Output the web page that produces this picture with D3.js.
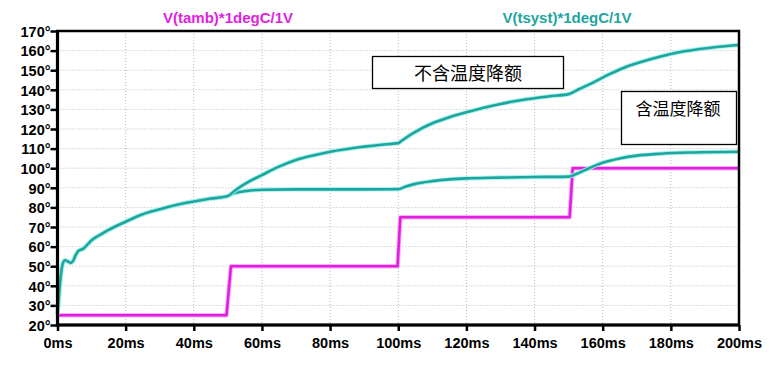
<!DOCTYPE html>
<html><head><meta charset="utf-8">
<script src="https://cdn.jsdelivr.net/npm/d3@7"></script>
<style>
html,body{margin:0;padding:0;background:#fff;}
svg{display:block;font-family:"Liberation Sans",Arial,sans-serif;}
</style></head>
<body>
<svg id="c" width="780" height="367"></svg>
<script>
// ---- data ----
const yTicks = [20,30,40,50,60,70,80,90,100,110,120,130,140,150,160,170];
const xTicks = [0,20,40,60,80,100,120,140,160,180,200];
const seriesNames = ["V(tamb)*1degC/1V","V(tsyst)*1degC/1V"];
const annotations = ["不含温度降额","含温度降额"];

const tambTime = [0,49.6,50.9,99.8,100.6,150.3,151.2,200];
const tambVal  = [25,25,50,50,75,75,100,100];

const upperTime = [0,0.4,0.9,1.5,2.2,3,3.8,4.5,5.3,6.1,7,7.6,8.5,10,12.5,15,20,25,30,35,40,45,50,
  52,55,60,65,70,75,80,85,90,95,100,101,105,110,115,120,125,130,135,140,145,150,151,153,157,162,167,172,177,182,188,194,200];
const upperVal = [25.5,34,44,51,53,52.5,51.7,52.5,55.5,57.8,58.5,59,60.5,63.2,66,68.5,72.7,76.5,79,81.3,83,84.5,85.8,
  88.5,92,96.5,100.8,104.2,106.5,108.4,109.8,111,112,112.8,114,118.5,122.9,126,128.5,130.8,132.8,134.4,135.7,136.8,137.8,138.5,140.3,143.5,148,151.8,154.6,157,159,160.7,162,162.9];

const lowerTime = [0,0.4,0.9,1.5,2.2,3,3.8,4.5,5.3,6.1,7,7.6,8.5,10,12.5,15,20,25,30,35,40,45,50,
  52,55,60,70,80,90,100,102,105,110,115,120,130,140,150,151,153,156,160,165,170,177,185,200];
const lowerVal = [25.5,34,44,51,53,52.5,51.7,52.5,55.5,57.8,58.5,59,60.5,63.2,66,68.5,72.7,76.5,79,81.3,83,84.5,85.8,
  87.3,88.3,89,89.2,89.2,89.2,89.3,90.5,92,93.4,94.3,94.8,95.2,95.5,95.7,96.2,97.6,100,102.8,105,106.4,107.4,108,108.4];

// ---- layout ----
const svg = d3.select("#c");
const L=57.5, R=739, T=31, B=325;
const x = d3.scaleLinear().domain([0,200]).range([L,R]);
const y = d3.scaleLinear().domain([20,170]).range([B,T]);

const teal="#1ea59e", tealHalo="#a8f2ee", mag="#e21fe0", magHalo="#f6aef4";

// grid
const g = svg.append("g");
g.selectAll(".gy").data(yTicks.slice(1,-1)).join("line")
  .attr("x1",L).attr("x2",R).attr("y1",d=>y(d)).attr("y2",d=>y(d))
  .attr("stroke","#b8b8b8").attr("stroke-width",1).attr("stroke-dasharray","1,2");
g.selectAll(".gx").data(xTicks.slice(1,-1)).join("line")
  .attr("y1",T).attr("y2",B).attr("x1",d=>x(d)).attr("x2",d=>x(d))
  .attr("stroke","#b8b8b8").attr("stroke-width",1).attr("stroke-dasharray","1,2");

// axes
const yAxis = d3.axisLeft(y).tickValues(yTicks).tickSize(7).tickPadding(0).tickFormat(d=>d+"°");
const xAxis = d3.axisBottom(x).tickValues(xTicks).tickSize(6).tickPadding(6).tickFormat(d=>d+"ms");
const ya = svg.append("g").attr("transform",`translate(${L},0)`).call(yAxis);
const xa = svg.append("g").attr("transform",`translate(0,${B})`).call(xAxis);
[ya,xa].forEach(a=>{
  a.select(".domain").remove();
  a.selectAll(".tick line").attr("stroke","#000").attr("stroke-width",2.5);
  a.selectAll(".tick text").attr("fill","#000").attr("font-size",14.5).attr("font-weight","bold")
   .attr("font-family","'Liberation Sans',Arial,sans-serif");
});
ya.selectAll(".tick text").attr("dy","0.36em");
xa.selectAll(".tick text").attr("dy","0.75em");

// lines
const mk = (tt,vv)=>tt.map((t,i)=>[t,vv[i]]);
const lineLin = d3.line().x(d=>x(d[0])).y(d=>y(d[1]));
const lineSm = d3.line().x(d=>x(d[0])).y(d=>y(d[1])).curve(d3.curveMonotoneX);

const draw=(pts,gen,c,h)=>{
  svg.append("path").attr("d",gen(pts)).attr("fill","none").attr("stroke",h).attr("stroke-width",4.5).attr("stroke-linejoin","round");
  svg.append("path").attr("d",gen(pts)).attr("fill","none").attr("stroke",c).attr("stroke-width",2.6).attr("stroke-linejoin","round");
};
draw(mk(tambTime,tambVal),lineLin,mag,magHalo);
draw(mk(lowerTime,lowerVal),lineSm,teal,tealHalo);
draw(mk(upperTime,upperVal),lineSm,teal,tealHalo);

// frame
svg.append("rect").attr("x",L).attr("y",T).attr("width",R-L).attr("height",B-T)
  .attr("fill","none").attr("stroke","#000").attr("stroke-width",2.5);
svg.append("line").attr("x1",L).attr("x2",L).attr("y1",T-1).attr("y2",B+1.5).attr("stroke","#000").attr("stroke-width",3.2);
svg.append("line").attr("x1",L-1).attr("x2",R+1).attr("y1",B).attr("y2",B).attr("stroke","#000").attr("stroke-width",3.2);

// series titles
svg.append("text").attr("x",228).attr("y",23).attr("text-anchor","middle")
  .attr("font-size",15).attr("font-weight","bold").attr("fill",mag).text(seriesNames[0]);
svg.append("text").attr("x",567).attr("y",23).attr("text-anchor","middle")
  .attr("font-size",15).attr("font-weight","bold").attr("fill",teal).text(seriesNames[1]);

// annotation boxes
svg.append("rect").attr("x",372.5).attr("y",56.5).attr("width",191).attr("height",32)
  .attr("fill","#fff").attr("stroke","#000").attr("stroke-width",1.3);
svg.append("text").attr("x",468).attr("y",80).attr("text-anchor","middle")
  .attr("font-size",18).attr("font-family","'Noto Sans CJK SC',sans-serif").attr("fill","#000").text(annotations[0]);
svg.append("rect").attr("x",621.5).attr("y",91.5).attr("width",115).attr("height",53)
  .attr("fill","#fff").attr("stroke","#000").attr("stroke-width",1.3);
svg.append("text").attr("x",678).attr("y",115).attr("text-anchor","middle")
  .attr("font-size",17).attr("font-family","'Noto Sans CJK SC',sans-serif").attr("fill","#000").text(annotations[1]);
</script>
</body></html>
